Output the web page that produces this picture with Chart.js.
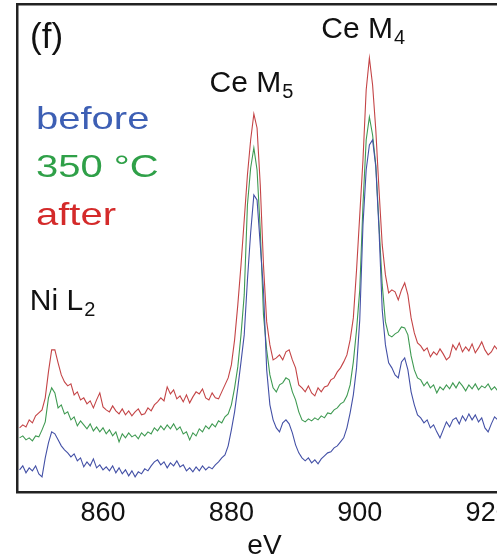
<!DOCTYPE html>
<html>
<head>
<meta charset="utf-8">
<script src="https://cdn.jsdelivr.net/npm/chart.js@4.4.1/dist/chart.umd.min.js"></script>
<style>
  html, body { margin: 0; padding: 0; background: #ffffff; overflow: hidden; }
  #wrap { position: relative; width: 519px; height: 556px; }
</style>
</head>
<body>
<div id="wrap"><canvas id="c"></canvas></div>
<script>
// Energy loss axis (eV), sampled every 0.5 eV
const energy = [
  847, 847.5, 848, 848.5, 849, 849.5, 850, 850.5, 851, 851.5,
  852, 852.5, 853, 853.5, 854, 854.5, 855, 855.5, 856, 856.5,
  857, 857.5, 858, 858.5, 859, 859.5, 860, 860.5, 861, 861.5,
  862, 862.5, 863, 863.5, 864, 864.5, 865, 865.5, 866, 866.5,
  867, 867.5, 868, 868.5, 869, 869.5, 870, 870.5, 871, 871.5,
  872, 872.5, 873, 873.5, 874, 874.5, 875, 875.5, 876, 876.5,
  877, 877.5, 878, 878.5, 879, 879.5, 880, 880.5, 881, 881.5,
  882, 882.5, 883, 883.5, 884, 884.5, 885, 885.5, 886, 886.5,
  887, 887.5, 888, 888.5, 889, 889.5, 890, 890.5, 891, 891.5,
  892, 892.5, 893, 893.5, 894, 894.5, 895, 895.5, 896, 896.5,
  897, 897.5, 898, 898.5, 899, 899.5, 900, 900.5, 901, 901.5,
  902, 902.5, 903, 903.5, 904, 904.5, 905, 905.5, 906, 906.5,
  907, 907.5, 908, 908.5, 909, 909.5, 910, 910.5, 911, 911.5,
  912, 912.5, 913, 913.5, 914, 914.5, 915, 915.5, 916, 916.5,
  917, 917.5, 918, 918.5, 919, 919.5, 920, 920.5, 921, 921.5
];

// Spectra (arbitrary intensity units, vertically offset for clarity)
const before = [
  22, 26, 19, 24, 21, 26, 18, 15, 34, 49,
  60, 58, 52, 46, 42, 39, 35, 38, 31, 34,
  25, 30, 26, 33, 24, 27, 22, 25, 21, 26,
  19, 24, 18, 22, 16, 21, 15, 20, 18, 23,
  21, 26, 30, 32, 27, 30, 24, 29, 26, 31,
  25, 27, 21, 24, 20, 25, 21, 26, 22, 25,
  23, 27, 30, 34, 37, 46, 62, 80, 104, 130,
  157, 212, 259, 297, 292, 247, 202, 122, 87, 72,
  64, 60, 69, 72, 68, 59, 47, 39, 34, 31,
  34, 29, 32, 28, 33, 36, 39, 40, 44, 46,
  50, 54, 64, 79, 97, 124, 172, 267, 322, 347,
  352, 325, 262, 182, 147, 129, 124, 117, 114, 130,
  134, 122, 100, 87, 77, 74, 69, 72, 64, 67,
  60, 54, 62, 70, 65, 72, 74, 68, 76, 71,
  78, 72, 77, 70, 74, 64, 60, 68, 75, 72
];

const heated350 = [
  54, 56, 52, 54, 51, 56, 55, 62, 70, 94,
  104, 99, 84, 87, 78, 80, 72, 75, 66, 71,
  67, 63, 68, 61, 65, 60, 64, 58, 62, 56,
  60, 50, 58, 54, 59, 55, 57, 53, 59, 56,
  60, 58, 64, 61, 66, 62, 67, 63, 68, 62,
  65, 58, 60, 52, 59, 56, 63, 60, 66, 63,
  68, 65, 71, 69, 75, 78, 87, 104, 125, 157,
  197, 287, 324, 344, 322, 262, 177, 142, 117, 104,
  100, 107, 109, 114, 112, 100, 92, 80, 72, 70,
  73, 71, 74, 72, 76, 74, 79, 78, 82, 84,
  88, 90, 96, 107, 130, 162, 202, 287, 352, 375,
  357, 327, 267, 207, 170, 157, 155, 158, 160, 165,
  164, 157, 136, 122, 114, 112, 106, 110, 104, 107,
  99, 105, 102, 107, 103, 109, 104, 110, 106, 101,
  107, 103, 108, 102, 106, 104, 108, 102, 105, 101
];

const after = [
  64, 67, 65, 72, 69, 76, 79, 82, 94, 120,
  142, 142, 129, 117, 110, 106, 108, 97, 100, 92,
  94, 88, 91, 84, 92, 99, 85, 82, 80, 86,
  81, 78, 83, 77, 81, 76, 80, 83, 77, 78,
  84, 81, 87, 90, 94, 91, 105, 98, 102, 93,
  96, 90, 97, 89, 95, 100, 98, 103, 94, 92,
  99, 94, 93, 100, 107, 114, 127, 152, 187, 227,
  272, 317, 352, 378, 364, 307, 227, 170, 147, 132,
  134, 137, 132, 140, 142, 132, 124, 107, 104, 100,
  106, 99, 96, 104, 100, 105, 106, 112, 114, 120,
  124, 130, 137, 152, 174, 222, 277, 332, 402, 434,
  407, 362, 302, 247, 217, 199, 202, 200, 192, 202,
  209, 197, 174, 159, 149, 146, 141, 144, 135, 140,
  137, 143, 138, 132, 135, 147, 142, 149, 140, 145,
  141, 148, 139, 144, 150, 142, 137, 140, 146, 142
];

const xTicks = [860, 880, 900, 920];

const seriesNames = ['before', '350 °C', 'after'];
const lineColors = ['#4350a6', '#3f9a52', '#c44446'];
const textColors = ['#3d5fb4', '#2fa048', '#d42a2a'];

// Edge labels, placed in data units (eV, intensity) at their baseline start
const edgeLabels = [
  { main: 'Ce M', sub: '5', e: 876.6, v: 400 },
  { main: 'Ce M', sub: '4', e: 894.0, v: 454 },
  { main: 'Ni L', sub: '2', e: 848.6, v: 182 }
];

const FONT = '"Liberation Sans", Arial, Helvetica, sans-serif';

function toPoints(values) {
  return values.map((v, i) => ({ x: energy[i], y: v }));
}

const annotate = {
  id: 'annotate',
  afterDatasetsDraw(chart) {
    const { ctx, chartArea, scales } = chart;
    const xs = scales.x, ys = scales.y;
    ctx.save();
    ctx.textBaseline = 'alphabetic';
    ctx.textAlign = 'left';

    // panel tag
    ctx.fillStyle = '#111';
    ctx.font = '35px ' + FONT;
    ctx.fillText('(f)', chartArea.left + 13, chartArea.top + 44);

    // series key, drawn as coloured words
    ctx.font = '32px ' + FONT;
    seriesNames.forEach((name, i) => {
      ctx.save();
      ctx.translate(chartArea.left + 19, chartArea.top + 125 + i * 48);
      ctx.scale(1.25, 1);
      ctx.fillStyle = textColors[i];
      ctx.fillText(name, 0, 0);
      ctx.restore();
    });

    // edge names with subscripts
    edgeLabels.forEach(l => {
      const px = xs.getPixelForValue(l.e);
      const py = ys.getPixelForValue(l.v);
      ctx.fillStyle = '#111';
      ctx.font = '30px ' + FONT;
      ctx.fillText(l.main, px, py);
      const w = ctx.measureText(l.main).width;
      ctx.font = '20px ' + FONT;
      ctx.fillText(l.sub, px + w + 1, py + 6);
    });
    ctx.restore();
  }
};

const datasets = [before, heated350, after].map((vals, i) => ({
  label: seriesNames[i],
  data: toPoints(vals),
  borderColor: lineColors[i],
  borderWidth: 1.1,
  pointRadius: 0,
  tension: 0,
  fill: false
}));

const hiddenGrid = { display: false, drawTicks: false };
const frame = { display: true, color: '#222', width: 2.5 };

new Chart(document.getElementById('c'), {
  type: 'line',
  data: { datasets },
  options: {
    responsive: true,
    maintainAspectRatio: false,
    animation: false,
    devicePixelRatio: 1,
    layout: { padding: { left: 17, top: 4, right: 0, bottom: 0 } },
    plugins: { legend: { display: false }, tooltip: { enabled: false } },
    scales: {
      x: {
        type: 'linear',
        position: 'bottom',
        min: 846.6,
        max: 923.7,
        afterBuildTicks: s => { s.ticks = xTicks.map(v => ({ value: v })); },
        grid: hiddenGrid,
        border: frame,
        ticks: {
          color: '#111',
          padding: 8,
          autoSkip: false,
          maxRotation: 0,
          font: { family: FONT, size: 27, lineHeight: 1 },
          callback: v => String(v)
        },
        title: {
          display: true,
          text: 'eV',
          color: '#111',
          font: { family: FONT, size: 28, lineHeight: 0.72 },
          padding: { top: 1, bottom: 0 }
        }
      },
      xTop: {
        type: 'linear',
        axis: 'x',
        position: 'top',
        min: 846.6,
        max: 923.7,
        grid: hiddenGrid,
        border: frame,
        ticks: { display: false }
      },
      y: {
        type: 'linear',
        min: 0,
        max: 488,
        grid: hiddenGrid,
        border: frame,
        ticks: { display: false }
      }
    }
  },
  plugins: [annotate]
});
</script>
</body>
</html>
